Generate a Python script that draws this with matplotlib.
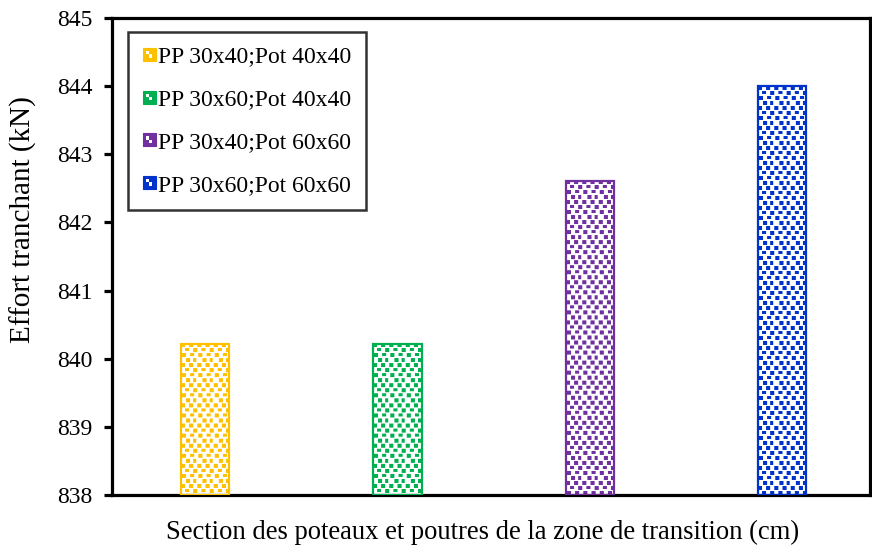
import numpy as np
import matplotlib
matplotlib.use("Agg")
import matplotlib.pyplot as plt
from matplotlib.colors import to_rgba
from matplotlib.patches import Rectangle
from matplotlib.legend_handler import HandlerBase

plt.rcParams['font.family'] = ['Liberation Serif', 'DejaVu Serif']

labels = ["PP 30x40;Pot 40x40", "PP 30x60;Pot 40x40", "PP 30x40;Pot 60x60", "PP 30x60;Pot 60x60"]
values = [840.22, 840.22, 842.61, 844.0]
colors = ["#FFC000", "#00B050", "#7030A0", "#0033CC"]
yticks = [838, 839, 840, 841, 842, 843, 844, 845]

W, H, DPI = 872, 549, 100
fig = plt.figure(figsize=(W / DPI, H / DPI), dpi=DPI)
ax = fig.add_axes([112 / W, 54 / H, 758 / W, 477 / H])

x = np.arange(len(values))

# confetti texture tile (16 x 20 px)
tile = np.zeros((20, 16), dtype=bool)
for (r, c, h, w) in [(0, 0, 4, 4), (0, 8, 4, 4),
                     (5, 4, 3, 4), (5, 12, 4, 4),
                     (10, 1, 4, 4), (10, 9, 3, 4),
                     (15, 5, 4, 4), (15, 12, 4, 3)]:
    tile[r:r + h, c:c + w] = True

bars = ax.bar(x, [v - 838 for v in values], bottom=838, width=0.25,
              facecolor='none', edgecolor=colors, linewidth=1.6, zorder=3)
ax.set_xlim(-0.483, 3.455)
ax.set_ylim(838, 845)

fig.canvas.draw()
for b, c in zip(bars, colors):
    bb = b.get_window_extent()
    w = max(int(round(bb.width)), 1)
    h = max(int(round(bb.height)), 1)
    reps = (h // 20 + 2, w // 16 + 2)
    mask = np.tile(tile, reps)[:h, :w]
    img = np.ones((h, w, 4))
    img[mask] = to_rgba(c)
    xb, yb = b.get_x(), b.get_y()
    im = ax.imshow(img, extent=(xb, xb + b.get_width(), yb, yb + b.get_height()),
                   origin='upper', interpolation='antialiased', aspect='auto', zorder=2)
    im.set_clip_path(b)

ax.set_xlim(-0.483, 3.455)
ax.set_ylim(838, 845)
ax.set_yticks(yticks)
ax.set_yticklabels([str(t) for t in yticks])
ax.set_xticks([])

for s in ax.spines.values():
    s.set_linewidth(2.3)
    s.set_color('black')
ax.tick_params(axis='y', direction='out', length=6, width=2.3, labelsize=17, pad=8)

ax.set_ylabel("Effort tranchant (kN)", fontsize=21)
ax.yaxis.set_label_coords(-0.099, 0.5765)
ax.set_xlabel("Section des poteaux et poutres de la zone de transition (cm)", fontsize=19.2)
ax.xaxis.set_label_coords(0.4888, -0.052)


class ConfettiHandler(HandlerBase):
    def __init__(self, color):
        super().__init__()
        self.color = color

    def create_artists(self, legend, orig_handle, xdescent, ydescent, width, height, fontsize, trans):
        s = min(width, height)
        x0 = -xdescent + (width - s) / 2
        y0 = -ydescent + (height - s) / 2
        arts = [Rectangle((x0, y0), s, s, facecolor=self.color, edgecolor=self.color, lw=0.8, transform=trans)]
        q = s / 4
        arts.append(Rectangle((x0 + q, y0 + 2 * q), q, q, facecolor='white', lw=0, transform=trans))
        arts.append(Rectangle((x0 + 2 * q, y0 + q), q, q, facecolor='white', lw=0, transform=trans))
        return arts


handles = [Rectangle((0, 0), 1, 1) for _ in labels]
hmap = {h: ConfettiHandler(c) for h, c in zip(handles, colors)}
leg = ax.legend(handles, labels, handler_map=hmap, loc='upper left',
                bbox_to_anchor=(16 / 758, 1 - 14 / 477), fontsize=17,
                handlelength=0.55, handleheight=0.55, handletextpad=0.12,
                labelspacing=0.92, borderpad=0.62, frameon=True, fancybox=False,
                borderaxespad=0)
leg.get_frame().set_edgecolor('black')
leg.get_frame().set_linewidth(1.8)

fig.savefig("out.png", dpi=DPI)
